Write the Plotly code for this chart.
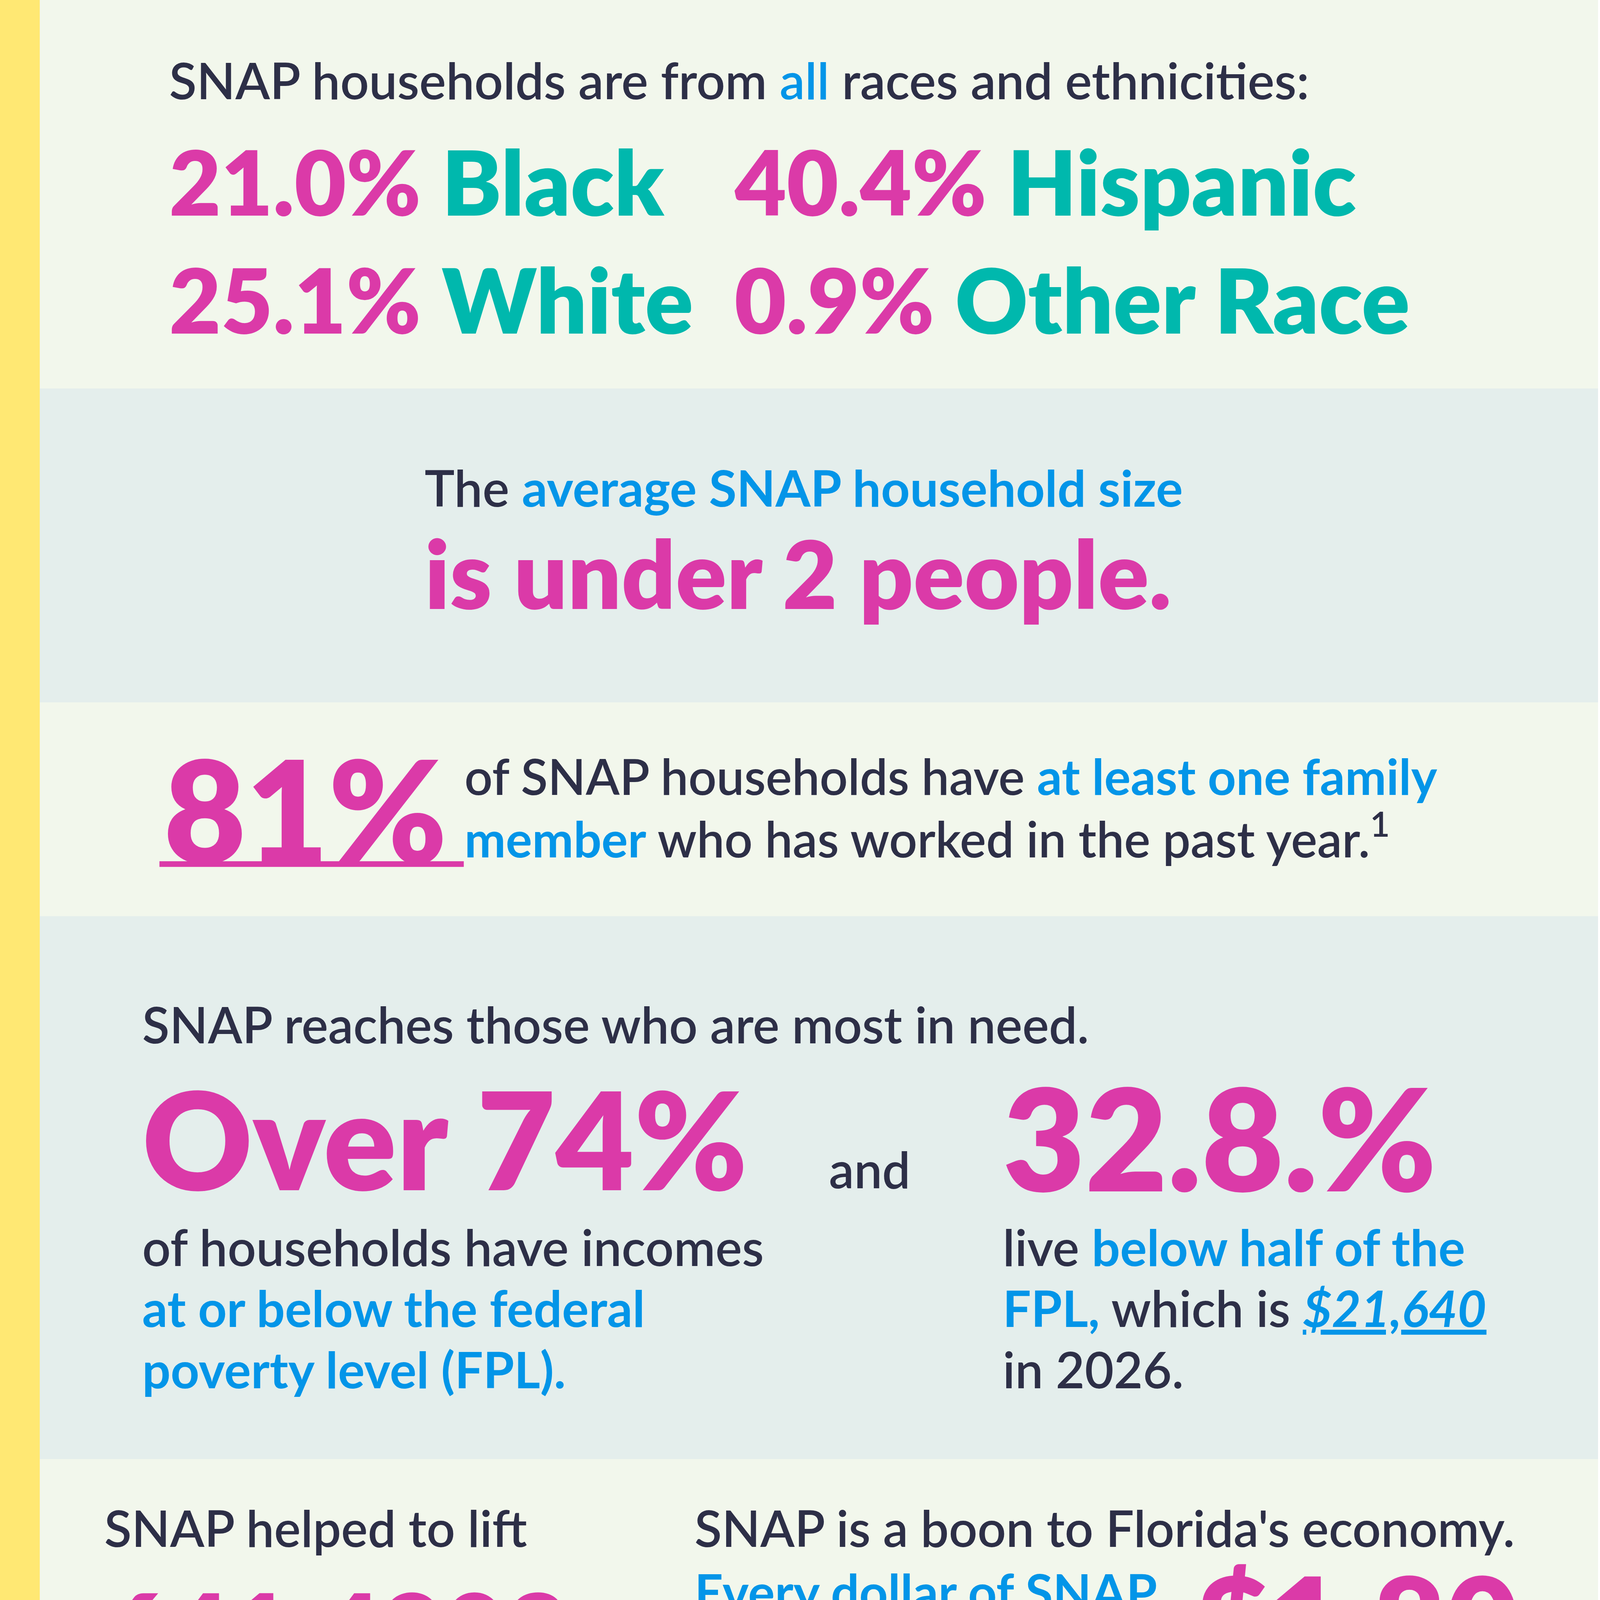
import plotly.graph_objects as go

# colours
PINK = "#DB3AA8"
TEAL = "#00B8AD"
BLUE = "#0395E8"
DARK = "#2D2F47"
BG_LIGHT = "#F2F7EC"
BG_GRAY = "#E4EEEC"
BG_FOOT = "#F7F5F3"
YELLOW = "#FFE873"
FONT = "Lato"

# data
race_names = ["Black", "Hispanic", "White", "Other Race"]
race_pct = [21.0, 40.4, 25.1, 0.9]
avg_household_size = 2
worked_pct = 81
below_fpl_pct = 74
half_fpl_pct = "32.8."
fpl_2026 = "$21,640"
families_lifted = "641,4802"
lifted_year = 2023
multiplier = "$1.80"
monthly_allotment = "$310"
retail_stores = "15,256"
locator_url = "fna.usda.gov/snap/retailer-locator"

# section bands (top, bottom, colour)
band_tops = [0, 1094, 1978, 2580, 4109, 5194, 6085, 7416]
band_bottoms = [1094, 1978, 2580, 4109, 5194, 6085, 7416, 8000]
band_colors = [BG_LIGHT, BG_GRAY, BG_LIGHT, BG_GRAY, BG_LIGHT, BG_GRAY, BG_LIGHT, BG_FOOT]

# layout is laid out in 4500x8000 units; the page renders at ~1.1 device px per css px
W, H = 4500, 8000
S = 1 / 1.1
BODY = 141


def c(text, col):
    return f"<span style='color:{col}'>{text}</span>"


fig = go.Figure()
ann = []


def label(x, y, text, size=BODY, color=DARK, weight=600, anchor="left", style="normal"):
    ann.append(dict(x=x, y=y, text=text, xref="x", yref="y", showarrow=False,
                    xanchor=anchor, yanchor="middle", align=anchor,
                    font=dict(family=FONT, size=size * S, color=color, weight=weight, style=style)))


def underline(x0, x1, y, col=PINK, w=16):
    fig.add_shape(type="line", x0=x0, x1=x1, y0=y, y1=y, xref="x", yref="y",
                  line=dict(color=col, width=w * S), layer="above")


for t, b, col in zip(band_tops, band_bottoms, band_colors):
    fig.add_shape(type="rect", x0=112, x1=W, y0=t, y1=b, xref="x", yref="y",
                  fillcolor=col, line=dict(width=0), layer="below")
fig.add_shape(type="rect", x0=0, x1=112, y0=0, y1=H, xref="x", yref="y",
              fillcolor=YELLOW, line=dict(width=0), layer="below")

# section 1: races
label(474, 224, "SNAP households are from " + c("all", BLUE) + " races and ethnicities:", size=142)
race_x = [474, 2066, 474, 2066]
race_y = [510, 510, 842, 842]
for name, pct, x, y in zip(race_names, race_pct, race_x, race_y):
    label(x, y, c(f"{pct:.1f}%", PINK) + " " + c(name, TEAL), size=252, weight=800)

# section 2: household size
label(1194, 1372, "The " + c("<b>average SNAP household size</b>", BLUE), size=142)
label(1194, 1612, f"is under {avg_household_size} people.", size=266, color=PINK, weight=800)

# section 3: working members
label(459, 2276, f"{worked_pct}%", size=400, color=PINK, weight=800)
underline(449, 1306, 2433)
label(1306, 2184, "of SNAP households have " + c("<b>at least one family</b>", BLUE), size=139)
label(1306, 2352, c("<b>member</b>", BLUE) + " who has worked in the past year.<sup>1</sup>", size=139)

# section 4: need
label(398, 2883, "SNAP reaches those who are most in need.")
label(398, 3204, f"Over {below_fpl_pct}%", size=382, color=PINK, weight=800)
label(2332, 3291, "and")
label(2821, 3200, f"{half_fpl_pct}%", size=400, color=PINK, weight=800)
left_lines = ["of households have incomes",
              c("<b>at or below the federal</b>", BLUE),
              c("<b>poverty level (FPL).</b>", BLUE)]
right_lines = ["live " + c("<b>below half of the</b>", BLUE),
               c("<b>FPL,</b>", BLUE) + " which is " + c(f"<b><i><u>{fpl_2026}</u></i></b>", BLUE),
               "in 2026."]
for i, (l, r) in enumerate(zip(left_lines, right_lines)):
    label(398, 3510 + 172 * i, l)
    label(2821, 3510 + 172 * i, r)

# section 5: poverty and economy
label(291, 4301, "SNAP helped to lift")
label(291, 4590, families_lifted, size=304, color=PINK, weight=800)
label(291, 4832, "<b><i>families out of poverty</i></b>", size=149, color=BLUE)
label(291, 5000, f"in {lifted_year}.<sup>2</sup>")
label(1954, 4301, "SNAP is a boon to Florida's economy.")
label(1954, 4480, "<b>Every dollar of SNAP</b>", color=BLUE)
label(1954, 4653, "generates as much as")
label(3367, 4560, multiplier, size=355, color=PINK, weight=800)
underline(3357, 4398, 4750)
label(1954, 4827, "in total economic activity, particularly")
label(1954, 5000, "in a weak economy.")

# section 6: allotment
label(1347, 5459, "The " + c("<b>average</b>", BLUE), anchor="right")
label(1347, 5638, c("<b>monthly SNAP</b>", BLUE), anchor="right")
label(1347, 5806, c("<b>allotment</b>", BLUE) + " is", anchor="right")
label(1450, 5622, monthly_allotment, size=362, color=PINK, weight=800)
underline(1444, 2296, 5770)
label(2408, 5459, c("<b>per household,</b>", BLUE) + " (provided", size=144)
label(2408, 5633, "through Electronic Benefit", size=144)
label(2408, 5801, "Transfer cards).", size=144)

# section 7: retailers
label(650, 6388, retail_stores, size=375, color=PINK, weight=800)
underline(663, 1837, 6536)
label(1954, 6301, "of Florida’s " + c("<b>retail stores and</b>", BLUE))
label(1954, 6474, "<b>farmers markets accept SNAP.</b>", color=BLUE)
label(429, 6745, "Stores that accept SNAP can be found at " + c(f"<u>{locator_url}</u>", TEAL),
      size=110)
apply_lines = ["Floridians can " + c("<u>apply</u>", TEAL) + " in several ways: electronically from a computer",
               "or by completing a paper application that can be mailed, faxed, or",
               "returned in person to the Department of Children and Families."]
for i, line in enumerate(apply_lines):
    label(474, 6934 + 158 * i, line, size=128, weight=500, style="italic")

# footnotes
label(240, 7531, c("<sup>1</sup>", PINK) + "This data represents the average of SNAP households in Florida between",
      size=98, weight=400)
label(240, 7663, "2019 and 2023 that included a working member.", size=98, weight=400)
label(240, 7806, c("<sup>2</sup>", PINK) + "FPI analysis of USDA Food and Nutrition Service data tables B.1 and B.13",
      size=98, weight=400)

fig.update_layout(
    width=round(W * S), height=round(H * S), margin=dict(l=0, r=0, t=0, b=0),
    paper_bgcolor=BG_LIGHT, plot_bgcolor=BG_LIGHT,
    annotations=ann, showlegend=False,
    xaxis=dict(range=[0, W], visible=False, fixedrange=True),
    yaxis=dict(range=[H, 0], visible=False, fixedrange=True),
)
fig.write_html("out.html", config={"displayModeBar": False},
               post_script="document.body.style.margin='0';")
